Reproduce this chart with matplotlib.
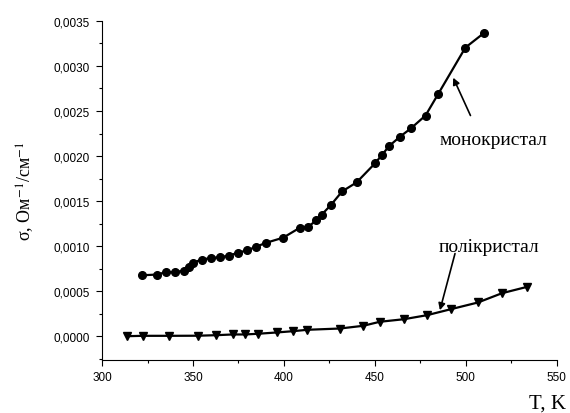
import matplotlib
matplotlib.use('Agg')
import matplotlib.pyplot as plt
from matplotlib.ticker import MultipleLocator, FuncFormatter

# monocrystal data (T in K, sigma in Ohm^-1 cm^-1)
t_mono = [321.8, 330.1, 335.0, 339.9, 344.9, 347.8, 350.0, 354.9, 359.9, 364.8,
          369.9, 374.9, 379.8, 384.8, 389.9, 399.6, 408.8, 413.3, 417.7, 420.7,
          425.6, 432.0, 439.9, 450.0, 453.8, 457.8, 463.7, 469.7, 477.8, 484.7,
          499.7, 509.8]
s_mono = [0.000676, 0.000684, 0.000710, 0.000710, 0.000728, 0.000773, 0.000817,
          0.000850, 0.000869, 0.000876, 0.000895, 0.000928, 0.000953, 0.000994,
          0.001035, 0.001094, 0.001205, 0.001213, 0.001286, 0.001349, 0.001452,
          0.001608, 0.001707, 0.001918, 0.002011, 0.002111, 0.002214, 0.002306,
          0.002450, 0.002687, 0.003204, 0.003364]

# polycrystal data
t_poly = [313.9, 322.7, 336.8, 352.5, 362.8, 371.8, 378.7, 385.8, 395.9, 404.7,
          412.9, 430.7, 443.5, 452.7, 465.8, 478.6, 491.6, 506.6, 519.8, 533.7]
s_poly = [0.0, 0.000004, 0.000004, 0.000005, 0.000011, 0.000019, 0.000019,
          0.000027, 0.000041, 0.000055, 0.000071, 0.000085, 0.000115, 0.000160,
          0.000188, 0.000233, 0.000299, 0.000374, 0.000477, 0.000548]

serif = ['Liberation Serif', 'DejaVu Serif']
sans = ['Liberation Sans', 'DejaVu Sans']
plt.rcParams['mathtext.fontset'] = 'stix'

fig = plt.figure(figsize=(5.7, 4.14), dpi=100)
ax = fig.add_axes([0.179, 0.129, 0.798, 0.818])

ax.plot(t_mono, s_mono, color='black', lw=1.6, marker='o', ms=5.5)
ax.plot(t_poly, s_poly, color='black', lw=1.6, marker='v', ms=6)

ax.set_xlim(300, 550)
ax.set_ylim(-0.00026, 0.0035)

ax.spines['top'].set_visible(False)
ax.spines['right'].set_visible(False)
ax.xaxis.set_major_locator(MultipleLocator(50))
ax.xaxis.set_minor_locator(MultipleLocator(25))
ax.yaxis.set_major_locator(MultipleLocator(0.0005))
ax.yaxis.set_minor_locator(MultipleLocator(0.00025))
ax.yaxis.set_major_formatter(FuncFormatter(lambda v, p: f'{v:.4f}'.replace('.', ',').replace('-', '')))
ax.tick_params(which='major', direction='out', length=4.5, width=0.8, labelsize=8.5, pad=4)
ax.tick_params(which='minor', direction='out', length=2.5, width=0.8)
for lab in ax.get_xticklabels() + ax.get_yticklabels():
    lab.set_family(sans)

ax.set_ylabel(r'σ, Ом$^{-1}$/см$^{-1}$', family=serif, fontsize=13)
ax.yaxis.set_label_coords(-0.145, 0.5)
fig.text(0.96, 0.002, 'T, K', family=serif, fontsize=15, ha='center', va='bottom')

# arrows and labels
ax.annotate('', xy=(493, 0.00287), xytext=(502.5, 0.00245),
            arrowprops=dict(arrowstyle='-|>', color='black', lw=1.2,
                            shrinkA=0, shrinkB=0, mutation_scale=10))
ax.text(485.5, 0.00218, 'монокристал', family=serif, fontsize=14,
        ha='left', va='center')
ax.annotate('', xy=(485.7, 0.000288), xytext=(494, 0.000917),
            arrowprops=dict(arrowstyle='-|>', color='black', lw=1.2,
                            shrinkA=0, shrinkB=0, mutation_scale=10))
ax.text(512.6, 0.000995, 'полікристал', family=serif, fontsize=14,
        ha='center', va='center')

fig.savefig('out.png', dpi=100)
